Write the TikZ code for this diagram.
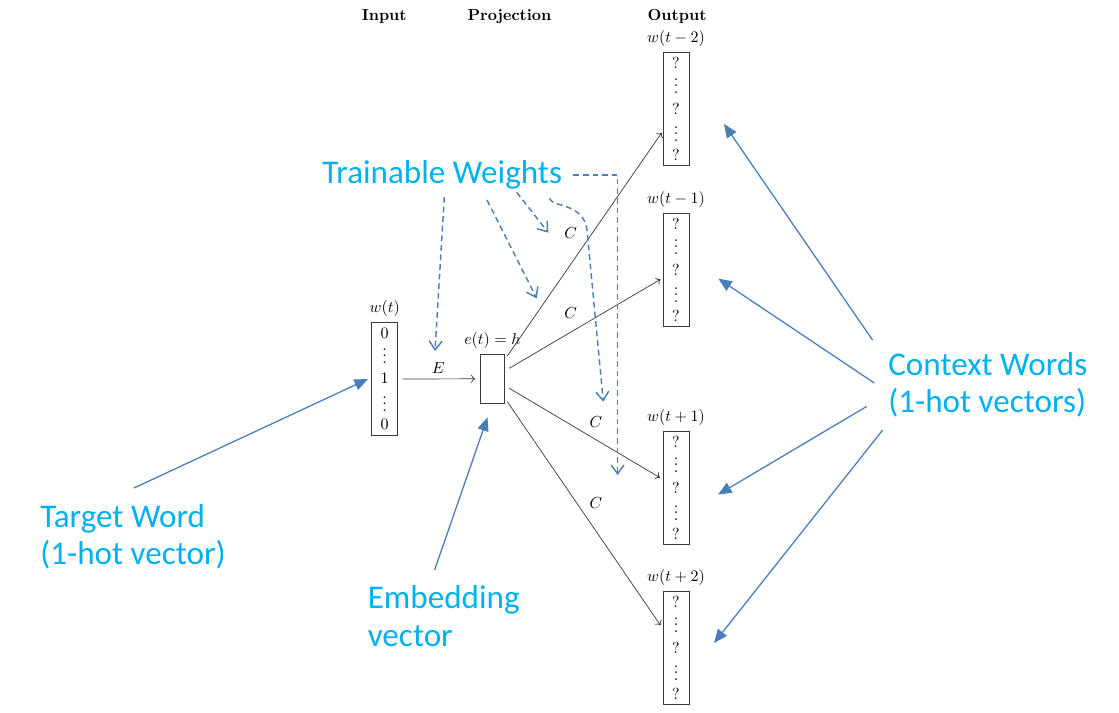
\documentclass[tikz,border=0pt]{standalone}
\usepackage{fontspec}
\usepackage{amsmath}
\usetikzlibrary{arrows.meta}
\newfontfamily\bluefont{Carlito}
\definecolor{lblblue}{HTML}{00B0F0}
\definecolor{arrblue}{HTML}{4A7EBB}
\definecolor{ink}{HTML}{3A3A3A}
\newcommand\tightvdots{\vbox{\baselineskip4pt\lineskiplimit0pt\hbox{.}\hbox{.}\hbox{.}}}
\newcommand\mkvec[7]{%
  \node[vecbox] (#1) at (#2,#3) {};
  \node[entry] (#1-l) at (#2,#3-13.5) {$#4$};
  \node[entry] (#1-a) at (#2,#3+11) {$#5$};
  \node[entry] (#1-d1) at (#2,#3+34) {\tightvdots};
  \node[entry] (#1-b) at (#2,#3+56.5) {$#6$};
  \node[entry] (#1-d2) at (#2,#3+82) {\tightvdots};
  \node[entry] (#1-c) at (#2,#3+102.5) {$#7$};
}
\begin{document}
\begin{tikzpicture}[x=0.625pt,y=-0.625pt,
  vecbox/.style={draw=ink, line width=0.6pt, minimum width=16.25pt, minimum height=70.6pt, inner sep=0pt, anchor=north},
  projbox/.style={draw=ink, line width=0.6pt, minimum width=15.4pt, minimum height=30.6pt, inner sep=0pt},
  entry/.style={inner sep=0pt},
  hdr/.style={anchor=base, inner sep=0pt, font=\bfseries},
  wire/.style={draw=ink, line width=0.45pt, -{To[length=2.6pt,width=5pt]}},
  callout/.style={draw=arrblue, line width=0.8pt, -{Triangle[length=8.5pt,width=7pt]}},
  weight/.style={draw=arrblue, line width=0.9pt, dash pattern=on 3.6pt off 2.4pt, -{Straight Barb[length=5.5pt,width=8pt]}},
  note/.style={font=\bluefont\fontsize{20.7}{24}\selectfont, text=lblblue, anchor=base west, inner sep=0pt},
]
\useasboundingbox (0,0) rectangle (1119,712);

% headers
\node[hdr] (hin) at (384.2,20) {Input};
\node[hdr] (hproj) at (509.5,20) {Projection};
\node[hdr] (hout) at (677,20) {Output};

% vectors
\mkvec{in}{384.7}{322}{w(t)}{0}{1}{0}
\mkvec{o1}{676}{52}{w(t-2)}{?}{?}{?}
\mkvec{o2}{676}{213}{w(t-1)}{?}{?}{?}
\mkvec{o3}{676}{431}{w(t+1)}{?}{?}{?}
\mkvec{o4}{676}{591}{w(t+2)}{?}{?}{?}

% projection
\node[projbox] (proj) at (492.4,378.8) {};
\node[entry] (projl) at (492.4,340) {$e(t)=h$};

% E wire
\draw[wire, shorten <=2.7pt, shorten >=2.7pt] (in) -- (proj);
\node[entry] (E) at (438.3,368) {$E$};

% fan wires
\coordinate (f1s) at (507.3,356);   \coordinate (f1e) at (661.7,132.7);
\coordinate (f2s) at (509.3,368.3); \coordinate (f2e) at (660.5,279.3);
\coordinate (f3s) at (509.3,388.3); \coordinate (f3e) at (660,477.7);
\coordinate (f4s) at (507.3,401.7); \coordinate (f4e) at (660.5,625.3);
\draw[wire] (f1s) -- (f1e);
\draw[wire] (f2s) -- (f2e);
\draw[wire] (f3s) -- (f3e);
\draw[wire] (f4s) -- (f4e);
\node[entry] (c1) at (570.7,232.7) {$C$};
\node[entry] (c2) at (570.7,312.7) {$C$};
\node[entry] (c3) at (596,421.7) {$C$};
\node[entry] (c4) at (596,502.7) {$C$};

% blue labels
\node[note] (tw) at (322,183.5) {Trainable Weights};
\node[note] (tg1) at (40,527) {Target Word};
\node[note] (tg2) at (40,564) {(1-hot vector)};
\node[note] (em1) at (367.5,608) {Embedding};
\node[note] (em2) at (367.5,646.5) {vector};
\node[note] (cw1) at (888,375) {Context Words};
\node[note] (cw2) at (888,412.5) {(1-hot vectors)};

% blue callout arrows
\coordinate (ta) at (134,488);   \coordinate (tb) at (368,379);
\coordinate (ea) at (434.6,570); \coordinate (eb) at (487.5,417.3);
\coordinate (k1a) at (872.5,340); \coordinate (k1b) at (724,124);
\coordinate (k2a) at (874.3,383); \coordinate (k2b) at (718.3,278.6);
\coordinate (k3a) at (866.7,406.4); \coordinate (k3b) at (718,494.6);
\coordinate (k4a) at (882.7,430); \coordinate (k4b) at (714,643);
\draw[callout] (ta) -- (tb);
\draw[callout] (ea) -- (eb);
\draw[callout] (k1a) -- (k1b);
\draw[callout] (k2a) -- (k2b);
\draw[callout] (k3a) -- (k3b);
\draw[callout] (k4a) -- (k4b);

% dashed weight arrows
\coordinate (w1a) at (444.3,197);   \coordinate (w1b) at (435,351);
\coordinate (w2a) at (487,200);     \coordinate (w2b) at (536.7,298.3);
\coordinate (w3a) at (516.7,192.3); \coordinate (w3b) at (548.3,232.7);
\coordinate (w4a) at (549.3,198.3); \coordinate (w4b) at (603.3,401.7);
\coordinate (w5a) at (573.3,175);   \coordinate (w5b) at (617.6,475);
\draw[weight] (w1a) -- (w1b);
\draw[weight] (w2a) -- (w2b);
\draw[weight] (w3a) -- (w3b);
\draw[weight] (w4a) .. controls (553,208) and (583,202) .. (587,230) -- (w4b);
\draw[weight] (w5a) -| (w5b);
\end{tikzpicture}
\end{document}
